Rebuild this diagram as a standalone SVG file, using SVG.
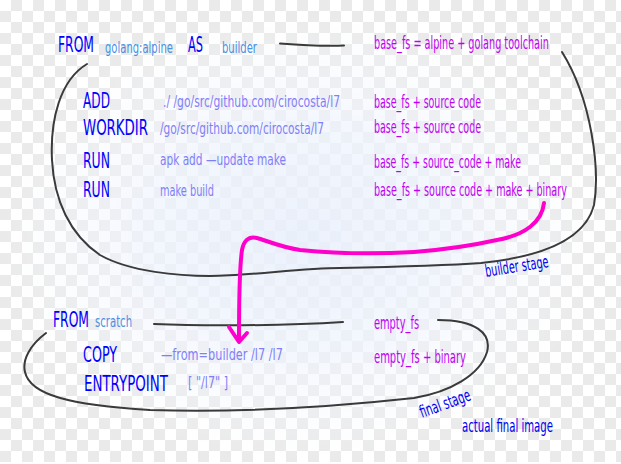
<svg xmlns="http://www.w3.org/2000/svg" width="621" height="464" viewBox="0 0 621 464">
<defs>
<radialGradient id="glow" cx="0.5" cy="0.5" r="0.5">
<stop offset="0" stop-color="#e8effb" stop-opacity="0.85"/>
<stop offset="0.5" stop-color="#eef3fd" stop-opacity="0.7"/>
<stop offset="1" stop-color="#f6f9fe" stop-opacity="0"/>
</radialGradient>
<style>
text { font-family: "DejaVu Sans Condensed", "DejaVu Sans", sans-serif; }
.kw { fill: #0000ff; font-size: 21px; }
.lt { fill: #4a8fe3; font-size: 16px; }
.arg { fill: #7f7ff8; font-size: 16px; }
.fs { fill: #c000f0; font-size: 17px; }
.note { fill: #0000ee; font-size: 17px; }
.line { fill: none; stroke: #3a3a3a; stroke-width: 2; stroke-linecap: round; }
.pink { fill: none; stroke: #ff00cc; stroke-width: 4; stroke-linecap: round; stroke-linejoin: round; }
.chk { fill: none; stroke: #eaeaea; stroke-width: 11; stroke-dasharray: 11 11; }
</style>
</defs>
<rect x="0" y="0" width="621" height="464" fill="#ffffff"/>
<g id="checkerboard">
<path class="chk" d="M11,5.5H621 M11,27.5H621 M11,49.5H621 M11,71.5H621 M11,93.5H621 M11,115.5H621 M11,137.5H621 M11,159.5H621 M11,181.5H621 M11,203.5H621 M11,225.5H621 M11,247.5H621 M11,269.5H621 M11,291.5H621 M11,313.5H621 M11,335.5H621 M11,357.5H621 M11,379.5H621 M11,401.5H621 M11,423.5H621 M11,445.5H621"/>
<path class="chk" d="M0,16.5H621 M0,38.5H621 M0,60.5H621 M0,82.5H621 M0,104.5H621 M0,126.5H621 M0,148.5H621 M0,170.5H621 M0,192.5H621 M0,214.5H621 M0,236.5H621 M0,258.5H621 M0,280.5H621 M0,302.5H621 M0,324.5H621 M0,346.5H621 M0,368.5H621 M0,390.5H621 M0,412.5H621 M0,434.5H621 M0,456.5H621"/>
</g>
<ellipse cx="300" cy="238" rx="300" ry="225" fill="url(#glow)"/>

<g id="connectors">
<path class="line" d="M87,64 C60,80 50,120 52,160 C54,200 70,235 100,255 C130,272 180,276 210,276 C250,276 300,268 340,268 C390,267 440,266 481,263 C540,257 585,240 594,205 C600,170 592,100 562,52"/>
<path class="line" d="M280,43.5 C300,45 325,46.5 344,45.5"/>
<path class="line" d="M154,324 C200,326 280,326 343,322"/>
<path class="line" d="M46,333 C30,345 22,360 25,372 C30,395 70,405 150,410 C250,413 350,405 414,398 C450,392 480,375 487,352 C492,333 475,320 438,320"/>
<path class="pink" d="M544,203 C542,222 525,235 497,240 C470,246 440,250 414,252 C380,254 340,254 300,250 C280,247 265,240 257,238 C249,236 244,240 242,250 C239,270 239,310 239,340"/>
<polyline class="pink" points="229,327 239,342 247,333"/>
</g>

<g id="from-builder">
<text class="kw" transform="translate(58 52) scale(0.65 1)" textLength="55.4" lengthAdjust="spacingAndGlyphs">FROM</text>
<text class="lt" transform="translate(105 53) scale(0.65 1)" textLength="104.6" lengthAdjust="spacingAndGlyphs">golang:alpine</text>
<text class="kw" transform="translate(188 52) scale(0.65 1)" textLength="23" lengthAdjust="spacingAndGlyphs">AS</text>
<text class="lt" transform="translate(222 53) scale(0.65 1)" textLength="53.8" lengthAdjust="spacingAndGlyphs">builder</text>
</g>
<g id="base-fs">
<text class="fs" transform="translate(374 49) scale(0.62 1)" textLength="282" lengthAdjust="spacingAndGlyphs">base_fs = alpine + golang toolchain</text>
</g>
<g id="add">
<text class="kw" transform="translate(83 108) scale(0.65 1)" textLength="41.5" lengthAdjust="spacingAndGlyphs">ADD</text>
<text class="arg" transform="translate(163 107) scale(0.73 1)" textLength="242.5" lengthAdjust="spacingAndGlyphs">./ /go/src/github.com/cirocosta/l7</text>
<text class="fs" transform="translate(374 108) scale(0.62 1)" textLength="172.6" lengthAdjust="spacingAndGlyphs">base_fs + source code</text>
</g>
<g id="workdir">
<text class="kw" transform="translate(83 135) scale(0.65 1)" textLength="100" lengthAdjust="spacingAndGlyphs">WORKDIR</text>
<text class="arg" transform="translate(160 134) scale(0.73 1)" textLength="224.7" lengthAdjust="spacingAndGlyphs">/go/src/github.com/cirocosta/l7</text>
<text class="fs" transform="translate(374 133) scale(0.62 1)" textLength="172.6" lengthAdjust="spacingAndGlyphs">base_fs + source code</text>
</g>
<g id="run-apk">
<text class="kw" transform="translate(83 168) scale(0.65 1)" textLength="41.5" lengthAdjust="spacingAndGlyphs">RUN</text>
<text class="arg" transform="translate(160 165) scale(0.73 1)" textLength="172.6" lengthAdjust="spacingAndGlyphs">apk add —update make</text>
<text class="fs" transform="translate(374 168) scale(0.62 1)" textLength="237" lengthAdjust="spacingAndGlyphs">base_fs + source_code + make</text>
</g>
<g id="run-make">
<text class="kw" transform="translate(83 197) scale(0.65 1)" textLength="41.5" lengthAdjust="spacingAndGlyphs">RUN</text>
<text class="arg" transform="translate(160 196) scale(0.73 1)" textLength="74" lengthAdjust="spacingAndGlyphs">make build</text>
<text class="fs" transform="translate(374 196) scale(0.62 1)" textLength="311" lengthAdjust="spacingAndGlyphs">base_fs + source code + make + binary</text>
</g>
<g id="builder-stage">
<text class="note" transform="translate(486 277) rotate(-9) scale(0.65 1)" textLength="98.5" lengthAdjust="spacingAndGlyphs">builder stage</text>
</g>

<g id="from-scratch">
<text class="kw" transform="translate(53 327) scale(0.65 1)" textLength="55.4" lengthAdjust="spacingAndGlyphs">FROM</text>
<text class="lt" transform="translate(95 327) scale(0.65 1)" font-size="15" textLength="57" lengthAdjust="spacingAndGlyphs">scratch</text>
</g>
<g id="empty-fs">
<text class="fs" transform="translate(374 329) scale(0.62 1)" textLength="72.6" lengthAdjust="spacingAndGlyphs">empty_fs</text>
</g>
<g id="copy">
<text class="kw" transform="translate(83 362) scale(0.65 1)" textLength="52.3" lengthAdjust="spacingAndGlyphs">COPY</text>
<text class="arg" transform="translate(161 360) scale(0.73 1)" textLength="167" lengthAdjust="spacingAndGlyphs">—from=builder /l7 /l7</text>
<text class="fs" transform="translate(374 363) scale(0.62 1)" textLength="148.4" lengthAdjust="spacingAndGlyphs">empty_fs + binary</text>
</g>
<g id="entrypoint">
<text class="kw" transform="translate(84 391) scale(0.65 1)" textLength="129" lengthAdjust="spacingAndGlyphs">ENTRYPOINT</text>
<text class="arg" transform="translate(188 388) scale(0.73 1)" textLength="54.8" lengthAdjust="spacingAndGlyphs">[ "/l7" ]</text>
</g>
<g id="final-stage">
<text class="note" transform="translate(422 418) rotate(-20) scale(0.65 1)" textLength="81.5" lengthAdjust="spacingAndGlyphs">final stage</text>
<text class="note" transform="translate(462 432) scale(0.65 1)" textLength="140" lengthAdjust="spacingAndGlyphs">actual final image</text>
</g>
</svg>
